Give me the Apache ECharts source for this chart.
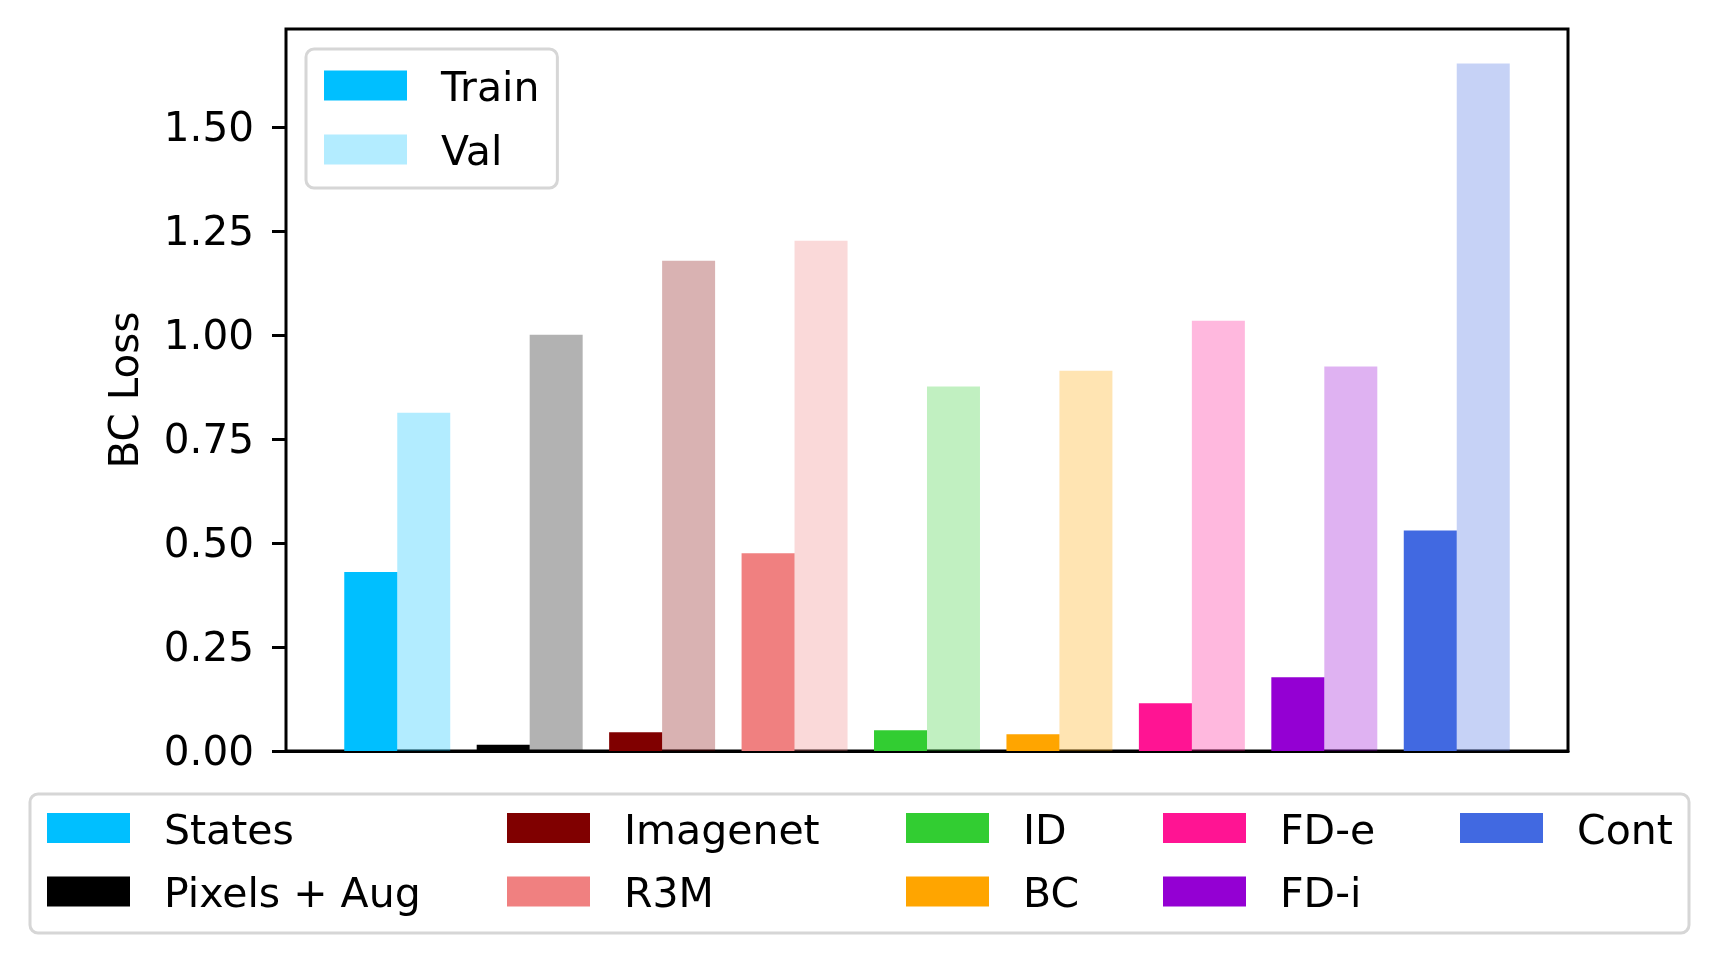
<!DOCTYPE html>
<html>
<head>
<meta charset="utf-8">
<title>BC Loss</title>
<script src="https://cdn.jsdelivr.net/npm/echarts@6/dist/echarts.min.js"></script>
<style>
    html, body { margin: 0; padding: 0; background: #fff; }
    #chart { width: 1720px; height: 962px; }
</style>
</head>
<body>
<div id="chart"></div>
<script>
// data
const categories = ["States", "Pixels + Aug", "Imagenet", "R3M", "ID", "BC", "FD-e", "FD-i", "Cont"];
const trainLoss = [0.43, 0.015, 0.045, 0.475, 0.05, 0.04, 0.115, 0.177, 0.53];
const valLoss = [0.813, 1.0, 1.178, 1.226, 0.876, 0.914, 1.034, 0.924, 1.652];
const yTicks = [0, 0.25, 0.5, 0.75, 1.0, 1.25, 1.5];
const splitNames = ["Train", "Val"];

const colors = ["#00BFFF", "#000000", "#800000", "#F08080", "#32CD32", "#FFA500", "#FF1493", "#9400D3", "#4169E1"];
const font = "DejaVu Sans";
const barW = 53;

var chart = echarts.init(document.getElementById("chart"));

// one series per method: train bar left of the slot, val bar (alpha 0.3) right of it
var series = [];
for (var i = 0; i < categories.length; i++) {
    series.push({
        name: categories[i],
        type: "bar",
        barWidth: barW,
        barGap: "-100%",
        itemStyle: { color: colors[i] },
        data: [
            [i - 0.2, trainLoss[i]],
            { value: [i + 0.2, valLoss[i]], itemStyle: { opacity: 0.3 } }
        ]
    });
}
// legend-only series for Train / Val
series.push({ name: splitNames[0], type: "bar", barWidth: barW, barGap: "-100%", itemStyle: { color: "#00BFFF" }, data: [] });
series.push({ name: splitNames[1], type: "bar", barWidth: barW, barGap: "-100%", itemStyle: { color: "rgb(179,236,255)" }, data: [] });

// rich text so the top padding really moves the text a bit below the icon centre
var legendText = {
    rich: {
        t: { fontFamily: font, fontSize: 41, lineHeight: 40, color: "#000", padding: [10, 0, 0, 29] }
    }
};

// top left legend
var legends = [{
    data: splitNames,
    orient: "vertical",
    left: 306,
    top: 49,
    icon: "rect",
    itemWidth: 83,
    itemHeight: 30,
    itemGap: 13,
    padding: [11, 18, 13, 18],
    borderColor: "#d6d6d6",
    borderWidth: 3,
    borderRadius: 8,
    backgroundColor: "#fff",
    selectedMode: false,
    formatter: "{t|{name}}",
    textStyle: legendText
}];

// bottom legend, 5 columns of 2
var colLeft = [47, 507, 906, 1163, 1460];
for (var c = 0; c < colLeft.length; c++) {
    legends.push({
        data: categories.slice(c * 2, c * 2 + 2),
        orient: "vertical",
        left: colLeft[c],
        top: 802.5,
        icon: "rect",
        itemWidth: 83,
        itemHeight: 30,
        itemGap: 12.6,
        padding: 0,
        selectedMode: false,
        formatter: "{t|{name}}",
        textStyle: legendText
    });
}

var option = {
    animation: false,
    backgroundColor: "#fff",
    textStyle: { fontFamily: font },
    grid: {
        left: 286,
        right: 152,
        top: 29,
        bottom: 211,
        show: true,
        borderColor: "#000",
        borderWidth: 3,
        backgroundColor: "#fff"
    },
    xAxis: {
        type: "value",
        min: -0.84,
        max: 8.84,
        axisLabel: { show: false },
        axisTick: { show: false },
        splitLine: { show: false },
        axisLine: { show: true, onZero: false, lineStyle: { color: "#000", width: 3 } }
    },
    yAxis: {
        type: "value",
        min: 0,
        max: 1.735,
        name: "BC Loss",
        nameLocation: "middle",
        nameGap: 138,
        nameTextStyle: { fontFamily: font, fontSize: 40.5, color: "#000" },
        axisLine: { show: false, onZero: false },
        splitLine: { show: false },
        axisTick: {
            show: true,
            customValues: yTicks,
            length: 14,
            lineStyle: { color: "#000", width: 3 }
        },
        axisLabel: {
            customValues: yTicks,
            margin: 32,
            formatter: function (v) { return "{v|" + v.toFixed(2) + "}"; },
            rich: {
                v: { fontFamily: font, fontSize: 40.5, color: "#000", padding: [7, 0, 0, 0] }
            }
        }
    },
    legend: legends,
    graphic: [{
        // frame around the bottom legend
        type: "rect",
        z: -1,
        shape: { x: 30, y: 794, width: 1659, height: 139, r: 8 },
        style: { fill: "#fff", stroke: "#d6d6d6", lineWidth: 3 }
    }],
    series: series
};

chart.setOption(option);
</script>
</body>
</html>
